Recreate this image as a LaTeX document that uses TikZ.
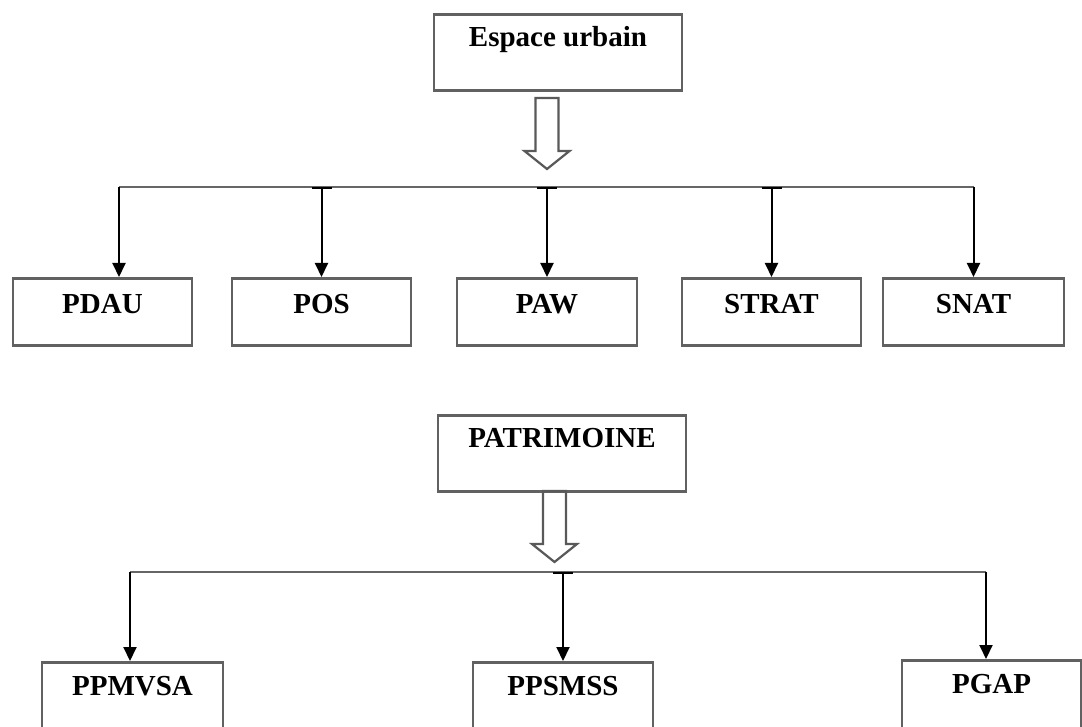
\documentclass[tikz,border=0pt]{standalone}
\usepackage{fontspec}
\setmainfont{Liberation Serif}
\usetikzlibrary{arrows.meta,calc}
\tikzset{
  box/.style={draw=black!62, line width=1.3pt, inner sep=0pt, anchor=north,
    font=\fontsize{14.5}{17}\selectfont\bfseries},
  bus/.style={draw=black!60, line width=1.2pt},
  feed/.style={draw=black, line width=1pt, arrows={-Triangle[width=6.5pt,length=7pt]}},
  tfeed/.style={feed, arrows={Bar[width=10pt]-Triangle[width=6.5pt,length=7pt]}},
  pics/hollow/.style={code={
    \draw[black!65, line width=1.1pt, line join=miter]
      (-11.5,0) -- (11.5,0) -- (11.5,53) -- (22.5,53) -- (0,71)
      -- (-22.5,53) -- (-11.5,53) -- cycle;}}
}
\begin{document}
\begin{tikzpicture}[x=0.5pt,y=-0.5pt]
\useasboundingbox (0,0) rectangle (1082,727);
\clip (0,0) rectangle (1082,727);
% espace urbain
\node[box, minimum width=124pt, text height=16.1pt, text depth=21.9pt] (eu) at (558,13) {Espace urbain};
\pic at (547,98) {hollow};
\node[box, minimum width=89.5pt, text height=17.6pt, text depth=15.9pt] (pdau) at (102.5,277) {PDAU};
\node[box, minimum width=89.5pt, text height=17.6pt, text depth=15.9pt] (pos) at (321.5,277) {POS};
\node[box, minimum width=90pt, text height=17.6pt, text depth=15.9pt] (paw) at (547,277) {PAW};
\node[box, minimum width=89.5pt, text height=17.6pt, text depth=15.9pt] (strat) at (771.5,277) {STRAT};
\node[box, minimum width=90.5pt, text height=17.6pt, text depth=15.9pt] (snat) at (973.5,277) {SNAT};
\coordinate (bus1) at (545,187);
\coordinate (pdauin) at ([xshift=8.25pt]pdau.north);
\draw[bus] (pdauin |- bus1) -- (snat.north |- bus1);
\draw[feed] (pdauin |- bus1) -- (pdauin);
\foreach \n in {pos,paw,strat}
  \draw[tfeed] (\n.north |- bus1) -- (\n.north);
\draw[feed] (snat.north |- bus1) -- (snat.north);
% patrimoine
\node[box, minimum width=124pt, text height=16.1pt, text depth=21.9pt] (pat) at (562,414) {PATRIMOINE};
\pic at (554.5,491) {hollow};
\node[box, minimum width=90.5pt, text height=16.6pt, text depth=25.4pt] (ppmvsa) at (132.5,661) {PPMVSA};
\node[box, minimum width=90pt, text height=16.6pt, text depth=25.4pt] (ppsmss) at (563,661) {PPSMSS};
\node[box, minimum width=89.5pt, text height=16.6pt, text depth=25.4pt] (pgap) at (991.5,659) {PGAP};
\coordinate (bus2) at (562,572);
\coordinate (ppmvsain) at ([xshift=-1.25pt]ppmvsa.north);
\coordinate (pgapin) at ([xshift=-2.75pt]pgap.north);
\draw[bus] (ppmvsain |- bus2) -- (pgapin |- bus2);
\draw[feed] (ppmvsain |- bus2) -- (ppmvsain);
\draw[tfeed] (ppsmss.north |- bus2) -- (ppsmss.north);
\draw[feed] (pgapin |- bus2) -- (pgapin);
\end{tikzpicture}
\end{document}
